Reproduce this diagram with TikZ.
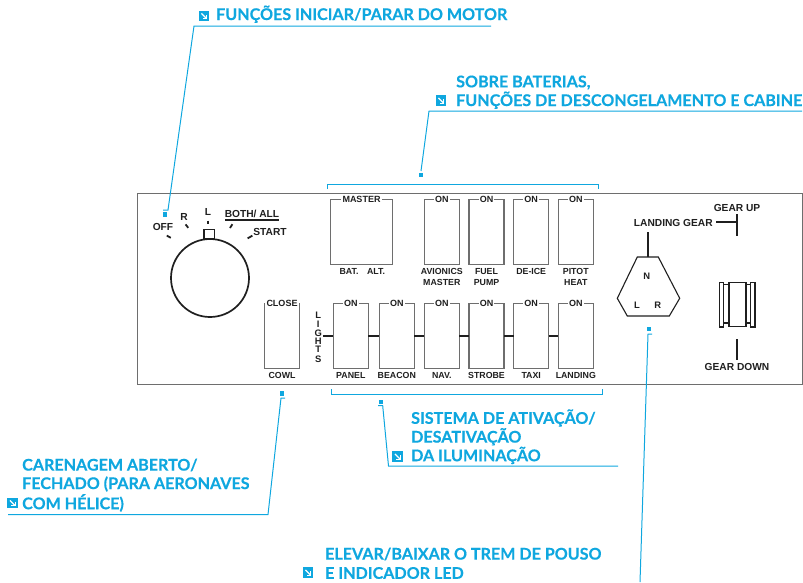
\documentclass[tikz,border=0pt]{standalone}
\usepackage{fontspec}
\setmainfont{Liberation Sans}
\newfontfamily\callfont{Lato}[BoldFont={Lato Bold},BoldFeatures={FakeBold=0.35}]
\definecolor{callblue}{HTML}{0FA7DF}
\definecolor{boxgrey}{HTML}{6E6E6E}
\definecolor{inkdark}{HTML}{1F1F1F}
\tikzset{
  sw/.style={draw=boxgrey,line width=1.1pt,fill=white,minimum height=65pt,inner sep=0pt,outer sep=0pt},
  swtop/.style={fill=white,inner sep=1.2pt,font=\fontsize{9}{9}\selectfont\bfseries,text=inkdark},
  lab/.style={inner sep=0pt,font=\fontsize{8.8}{11}\selectfont\bfseries,text=inkdark,align=center},
  biglab/.style={inner sep=0pt,font=\fontsize{10.2}{11}\selectfont\bfseries,text=inkdark},
  lettr/.style={inner sep=0pt,font=\fontsize{9.4}{9.4}\selectfont\bfseries,text=inkdark},
  bar/.style={draw=inkdark,line width=1.8pt},
  thin/.style={draw=inkdark,line width=1.1pt},
  call/.style={inner sep=0pt,anchor=west,font=\callfont\fontsize{16.1}{16}\selectfont\bfseries,text=callblue},
  lead/.style={draw=callblue,line width=1pt},
  brk/.style={draw=callblue,line width=1pt},
  dot/.style={fill=callblue,minimum size=4.5pt,inner sep=0pt},
  icon/.style={fill=callblue,minimum size=10.5pt,inner sep=0pt},
}
\newcommand{\IconAt}[3]{%
  \node[icon] (#1) at (#2,#3) {};
  \draw[white,line width=1.1pt] (#2-2.6,#3-2.6) -- (#2+2.6,#3+2.6);
  \draw[white,line width=1.1pt] (#2+2.8,#3-1.2) -- (#2+2.8,#3+2.8) -- (#2-1.2,#3+2.8);
}
\begin{document}
\begin{tikzpicture}[x=1pt,y=-1pt]
\useasboundingbox (0,0) rectangle (803,582);
% panel
\node[draw=boxgrey,line width=1pt,minimum width=665pt,minimum height=191pt,inner sep=0pt,anchor=north west] (panel) at (137,192.7) {};
% knob
\node[draw=inkdark,line width=1.7pt,circle,minimum size=78pt,inner sep=0pt] (knob) at (210,278) {};
\node[draw=inkdark,line width=1.4pt,minimum width=10.5pt,minimum height=9pt,inner sep=0pt,anchor=south] (pointer) at (209.3,239.4) {};
\coordinate (t1a) at (166.8,235.6); \coordinate (t1b) at (170.8,237.8);
\coordinate (t2a) at (185.6,224.4); \coordinate (t2b) at (188.2,227.8);
\coordinate (t3a) at (208,220.5); \coordinate (t3b) at (208,224);
\coordinate (t4a) at (232.4,224.2); \coordinate (t4b) at (230,228);
\coordinate (t5a) at (252.4,235.6); \coordinate (t5b) at (247.6,238.4);
\foreach \i in {1,...,5} \draw[bar] (t\i a) -- (t\i b);
\node[biglab] (off) at (163,227) {OFF};
\node[biglab] (r) at (184,216.5) {R};
\node[biglab] (l) at (208,211.5) {L};
\node[biglab] (both) at (252,214.3) {BOTH/ ALL};
\draw[bar] (225,219.6) -- (279,219.6);
\node[biglab] (start) at (270,232) {START};
% cowl
\node[sw,minimum width=34.6pt] (cowl) at (282,335.6) {};
\node[swtop] (cowltop) at (282,303.4) {CLOSE};
\node[lab] (cowllab) at (282,375.2) {COWL};
% lights word
\node[lettr] (lw1) at (318.3,314.8) {L};
\node[lettr] (lw2) at (318.3,324.2) {I};
\node[lettr] (lw3) at (318.3,332.8) {G};
\node[lettr] (lw4) at (318.3,341.2) {H};
\node[lettr] (lw5) at (318.3,349.6) {T};
\node[lettr] (lw6) at (318.3,359.2) {S};
\coordinate (lightsend) at (323.3,336.2);
% bottom row
\foreach \n/\x/\t in {p/350.8/PANEL,b/396.8/BEACON,n/441.8/NAV.,s/486.5/STROBE,t/531.2/TAXI,d/575.8/LANDING}{
  \node[sw,minimum width=35pt] (low\n) at (\x,336.2) {};
  \node[swtop] (low\n top) at (\x,303.4) {ON};
  \node[lab] (low\n lab) at (\x,375.2) {\t};
}
\draw[bar] (lightsend) -- (lowp.west);
\foreach \a/\b in {p/b,b/n,n/s,s/t,t/d} \draw[bar] (low\a.east) -- (low\b.west);
% top row
\node[sw,minimum width=61.6pt] (master) at (361.5,231.8) {};
\node[swtop] (mastertop) at (361.5,199.6) {MASTER};
\node[lab,anchor=center] (bat) at (349,271) {BAT.};
\node[lab,anchor=center] (alt) at (376,271) {ALT.};
\node[sw,minimum width=35pt] (avi) at (441.8,231.8) {};
\node[swtop] at (441.8,199.6) (avitop) {ON};
\node[lab] (avilab) at (441.8,276.6) {AVIONICS\\MASTER};
\node[sw,minimum width=35pt] (fuel) at (486.5,231.8) {};
\node[swtop] at (486.5,199.6) (fueltop) {ON};
\node[lab] (fuellab) at (486.5,276.6) {FUEL\\PUMP};
\node[sw,minimum width=35pt] (deice) at (531.2,231.8) {};
\node[swtop] at (531.2,199.6) (deicetop) {ON};
\node[lab] (deicelab) at (531.2,271) {DE-ICE};
\node[sw,minimum width=35pt] (pitot) at (575.8,231.8) {};
\node[swtop] at (575.8,199.6) (pitottop) {ON};
\node[lab] (pitotlab) at (575.8,276.6) {PITOT\\HEAT};
% landing gear
\node[biglab] (lgear) at (673.3,222.7) {LANDING GEAR};
\node[biglab] (gup) at (737,208) {GEAR UP};
\node[biglab] (gdown) at (737,367.3) {GEAR DOWN};
\coordinate (lgbase) at (648,257);
\draw[thin,line join=miter] (637.3,257) -- (658.3,257) -- (679.7,298.3) -- (669.3,316) -- (627.3,316) -- (617.3,298.3) -- cycle;
\draw[bar] (648,232) -- (lgbase);
\node[lettr] (gn) at (646.7,276.7) {N};
\node[lettr] (gl) at (637,305.6) {L};
\node[lettr] (gr) at (657.7,305.6) {R};
\draw[bar] (716,222.3) -- (737,222.3);
\draw[bar] (737,214) -- (737,235.7);
\draw[bar] (737,339) -- (737,360);
% gear handle
\draw[thin,line width=1.3pt] (719.5,282.5) rectangle (723.3,327);
\draw[thin,line width=1.3pt] (750.7,282.5) rectangle (755,327);
\draw[thin] (723.3,284.5) -- (729,284.5);
\draw[thin] (723.3,323) -- (729,323);
\draw[thin] (746,284.5) -- (750.7,284.5);
\draw[thin] (746,323) -- (750.7,323);
\node[draw=inkdark,line width=1.1pt,minimum width=17pt,minimum height=44pt,inner sep=0pt] (handle) at (737.5,304.6) {};
% brackets
\draw[brk] (327.3,189.2) -- (327.3,184.7) -- (598.3,184.7) -- (598.3,189.2);
\draw[brk] (331.7,389.2) -- (331.7,394) -- (602.7,394) -- (602.7,389.2);
% callouts
\node[call] (c1) at (216,14.2) {FUNÇÕES INICIAR/PARAR DO MOTOR};
\IconAt{i1}{204}{16}
\node[dot] (d1) at (165,214.7) {};
\draw[lead] (491,26) -- (194,26) -- (168,210) -- (163,210);
\node[call] (c2a) at (456,82.6) {SOBRE BATERIAS,};
\node[call] (c2b) at (456,100.2) {FUNÇÕES DE DESCONGELAMENTO E CABINE};
\IconAt{i2}{441}{100.5}
\node[dot] (d2) at (421,175) {};
\draw[lead] (802,111) -- (429,111) -- (421,171);
\node[call] (c3a) at (411,418) {SISTEMA DE ATIVAÇÃO/};
\node[call] (c3b) at (411,436.8) {DESATIVAÇÃO};
\node[call] (c3c) at (411,455.4) {DA ILUMINAÇÃO};
\IconAt{i3}{397.5}{456.5}
\node[dot] (d3) at (381,402) {};
\draw[lead] (618,466) -- (388.5,466) -- (382.7,405.7) -- (378,405.7);
\node[call] (c4a) at (22,465) {CARENAGEM ABERTO/};
\node[call] (c4b) at (22,484) {FECHADO (PARA AERONAVES};
\node[call] (c4c) at (22,503) {COM HÉLICE)};
\IconAt{i4}{12.5}{503}
\node[dot] (d4) at (282,393.5) {};
\draw[lead] (8,514.5) -- (268,514.5) -- (281,398) -- (285,398);
\node[call] (c5a) at (325,554) {ELEVAR/BAIXAR O TREM DE POUSO};
\node[call] (c5b) at (325,573) {E INDICADOR LED};
\IconAt{i5}{308}{572.5}
\node[dot] (d5) at (649,329) {};
\draw[lead] (640,582) -- (648,334) -- (652,334);
\end{tikzpicture}
\end{document}
